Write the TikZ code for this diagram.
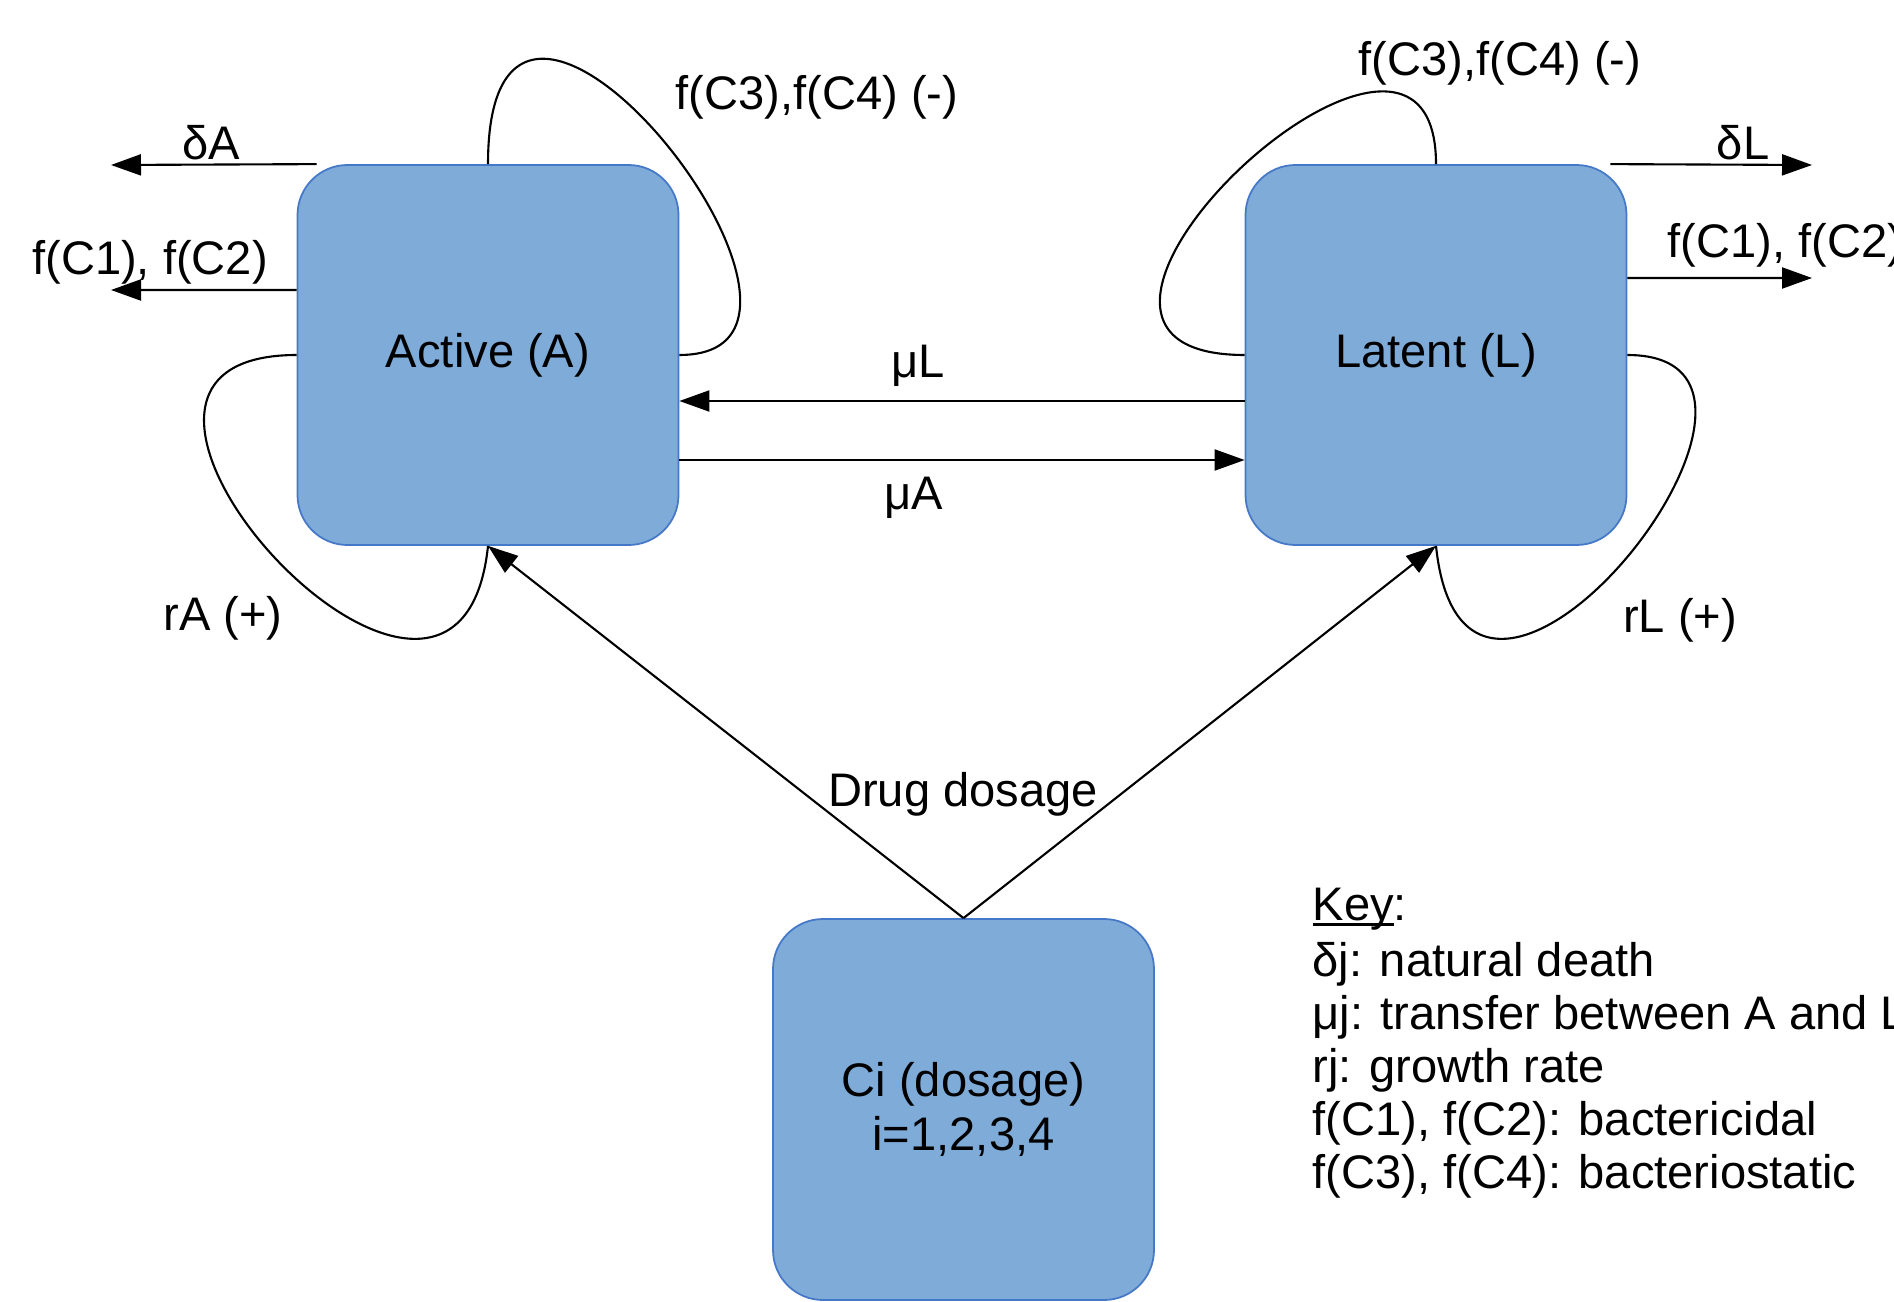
\documentclass[tikz,border=0pt]{standalone}
\usepackage{fontspec}
\setmainfont{Liberation Sans}
\usetikzlibrary{positioning,arrows.meta}
\definecolor{boxfill}{RGB}{126,171,216}
\definecolor{boxline}{RGB}{70,120,200}
\newcommand{\keyul}[1]{\setbox0\hbox{#1}\rlap{\rule[-0.12em]{\wd0}{0.06em}}\box0}

\begin{document}
\begin{tikzpicture}[
	font=\fontsize{13.4}{15.4}\selectfont,
	bstyle/.style={rectangle, rounded corners=5mm, fill=boxfill, draw=boxline, 
	line width=0.5pt, minimum width=3.81cm, minimum height=3.80cm, align=center},
	flow/.style={-{Triangle[length=3mm,width=2.1mm]}, line width=0.6pt},
	loopline/.style={line width=0.6pt}
	]
	\useasboundingbox (0,0) rectangle (18.94,13.01);
	
	\node[bstyle] (A) at (4.88,9.46) {Active (A)};
	\node[bstyle] (L) at (14.36,9.46) {Latent (L)};
	\node[bstyle, minimum height=3.81cm] (C) at (9.635,1.915) {Ci (dosage)\\i=1,2,3,4};
	
	\coordinate (dAend) at (1.11,11.36);
	\coordinate (fAend) at (1.11,10.11);
	\coordinate (dLend) at (18.12,11.36);
	\coordinate (fLend) at (18.12,10.23);
	
	\draw[flow] ([xshift=2mm]A.north west) -- (dAend);
	\draw[flow] ([yshift=6.5mm]A.west) -- (fAend);
	\draw[flow] ([xshift=-1.7mm]L.north east) -- (dLend);
	\draw[flow] ([yshift=7.7mm]L.east) -- (fLend);
	\draw[flow] ([yshift=-4.6mm]L.west) -- ([yshift=-4.6mm]A.east);
	\draw[flow] ([yshift=-10.5mm]A.east) -- ([yshift=-10.5mm]L.west);
	\draw[flow] (C.north) -- (A.south);
	\draw[flow] (C.north) -- (L.south);
	
	\draw[loopline] 
	(A.north) .. controls +(up:32mm) and +(right:21mm) .. (A.east);
	\draw[loopline] 
	(A.west) .. controls +(left:28mm) and +(-0.3,-2.9) .. (A.south);
	\draw[loopline] 
	(L.north) .. controls +(up:24mm) and +(left:27mm) .. (L.west);
	\draw[loopline] 
	(L.east) .. controls +(right:22mm) and +(0.3,-2.9) .. (L.south);
	
	\node (lDA) at (2.11,11.58) {δA};
	\node (lfA) at (1.50,10.39) {f(C1), f(C2)};
	\node (lDL) at (17.43,11.58) {δL};
	\node[anchor=west] (lfL) at (16.55,10.56) {f(C1), f(C2)};
	\node (lmL) at (9.18,9.35) {μL};
	\node (lmA) at (9.14,8.03) {μA};
	\node (lgA) at (8.17,12.04) {f(C3),f(C4) (-)};
	\node (lgL) at (15.00,12.38) {f(C3),f(C4) (-)};
	\node (lrA) at (2.23,6.83) {rA (+)};
	\node (lrL) at (16.80,6.81) {rL (+)};
	\node (ldose) at (9.63,5.07) {Drug dosage};
	
	\node[anchor=north west, align=left, inner sep=0pt, 
	font=\fontsize{13.4}{15.1}\selectfont] (key) at (13.12,4.14) 
	{\keyul{Key}:\\[1pt]
	δj: natural death\\
	μj: transfer between A and L\\
	rj: growth rate\\
	f(C1), f(C2): bactericidal\\
	f(C3), f(C4): bacteriostatic};
\end{tikzpicture}
\end{document}
